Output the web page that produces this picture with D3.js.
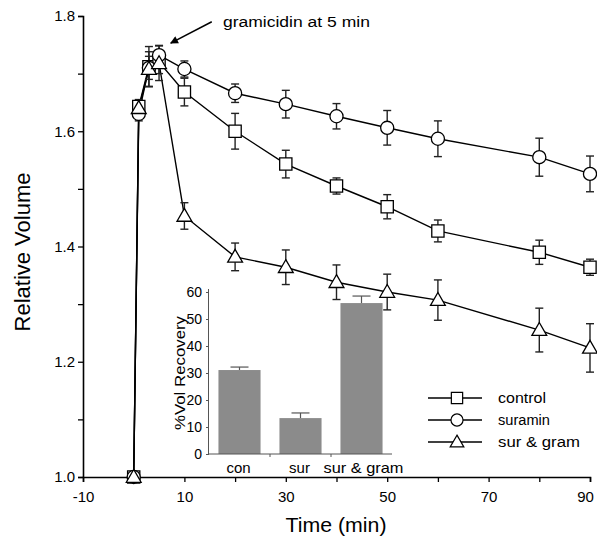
<!DOCTYPE html>
<html><head><meta charset="utf-8">
<script src="https://cdn.jsdelivr.net/npm/d3@7"></script>
<style>
html,body{margin:0;padding:0;background:#fff;}
svg{display:block;font-family:"Liberation Sans",Arial,Helvetica,sans-serif;}
</style></head>
<body>
<svg id="chart" width="597" height="548"></svg>
<script>
// ---- data ----
const times = [0, 1, 3, 5, 10, 20, 30, 40, 50, 60, 80, 90];
const control  = [1.0, 1.643, 1.712, 1.72, 1.668, 1.600, 1.543, 1.505, 1.469, 1.427, 1.390, 1.364];
const suramin  = [1.0, 1.630, 1.710, 1.732, 1.708, 1.666, 1.647, 1.626, 1.606, 1.587, 1.555, 1.526];
const surGram  = [1.0, 1.640, 1.708, 1.718, 1.453, 1.382, 1.364, 1.338, 1.321, 1.307, 1.255, 1.224];
const controlErr = [0, 0.012, 0.035, 0.02, 0.024, 0.031, 0.024, 0.014, 0.021, 0.019, 0.021, 0.014];
const suraminErr = [0, 0.012, 0.02, 0.017, 0.014, 0.016, 0.024, 0.022, 0.030, 0.031, 0.033, 0.031];
const surGramErr = [0, 0.012, 0.03, 0.03, 0.023, 0.024, 0.030, 0.030, 0.031, 0.035, 0.038, 0.042];
const seriesNames = ["control", "suramin", "sur & gram"];
const xTicks = [-10, 0, 10, 20, 30, 40, 50, 60, 70, 80, 90];
const xTickLabels = ["-10", "", "10", "", "30", "", "50", "", "70", "", "90"];
const yTicks = [1.0, 1.1, 1.2, 1.3, 1.4, 1.5, 1.6, 1.7, 1.8];
const yTickLabels = ["1.0", "", "1.2", "", "1.4", "", "1.6", "", "1.8"];

// inset
const insetCats = ["con", "sur", "sur & gram"];
const insetVals = [31.1, 13.3, 55.9];
const insetErr = [1.1, 1.9, 2.6];
const insetTicks = [0, 10, 20, 30, 40, 50, 60];

const annotation = {text: "gramicidin at 5 min", tail: [15.4, 1.79], tip: [7.3, 1.753], textPos: [17.6, 1.781]};

// ---- drawing ----
const svg = d3.select("#chart");
const x = d3.scaleLinear().domain([-10, 90]).range([83, 590]);
const y = d3.scaleLinear().domain([1.0, 1.8]).range([477, 16]);

const defs = svg.append("defs");
defs.append("marker").attr("id", "arrow").attr("viewBox", "0 0 10 10")
  .attr("refX", 9).attr("refY", 5).attr("markerWidth", 10).attr("markerHeight", 8)
  .attr("markerUnits", "userSpaceOnUse").attr("orient", "auto")
  .append("path").attr("d", "M0,0 L10,5 L0,10 z").attr("fill", "#000");

// axes
const xAxis = d3.axisBottom(x).tickValues(xTicks).tickSize(5).tickPadding(9)
  .tickFormat((d, i) => xTickLabels[i]);
const gx = svg.append("g").attr("transform", "translate(0,477)").call(xAxis);
const yAxis = d3.axisLeft(y).tickValues(yTicks).tickSize(5).tickPadding(3)
  .tickFormat((d, i) => yTickLabels[i]);
const gy = svg.append("g").attr("transform", "translate(83,0)").call(yAxis);
[gx, gy].forEach(g => {
  g.attr("font-size", 15).attr("font-family", "Liberation Sans, Arial, sans-serif");
  g.select(".domain").attr("stroke", "#000").attr("stroke-width", 1.6);
  g.selectAll(".tick line").attr("stroke", "#000").attr("stroke-width", 1.3);
  g.selectAll(".tick text").attr("fill", "#000");
});
gx.selectAll(".tick text").filter(d => d === 90).attr("dx", -5);

svg.append("text").attr("x", 336).attr("y", 532).attr("text-anchor", "middle")
  .attr("font-size", 20).attr("textLength", 101).attr("lengthAdjust", "spacingAndGlyphs")
  .text("Time (min)");
svg.append("text").attr("transform", "translate(30,252) rotate(-90)").attr("text-anchor", "middle")
  .attr("font-size", 22).attr("textLength", 159).attr("lengthAdjust", "spacingAndGlyphs")
  .text("Relative Volume");

// inset bar chart
const ix = d3.scaleBand().domain(insetCats).range([209, 392]).paddingInner(0.31).paddingOuter(0.155);
const iy = d3.scaleLinear().domain([0, 60]).range([454, 292]);
const ig = svg.append("g");
ig.selectAll("rect.bar").data(insetVals).join("rect").attr("class", "bar")
  .attr("x", (d, i) => ix(insetCats[i])).attr("width", ix.bandwidth())
  .attr("y", d => iy(d)).attr("height", d => iy(0) - iy(d))
  .attr("fill", "#8b8b8b");
ig.selectAll("g.ierr").data(insetVals).join("g").attr("class", "ierr").each(function(d, i) {
  const cx = ix(insetCats[i]) + ix.bandwidth() / 2;
  const g = d3.select(this);
  g.append("line").attr("x1", cx).attr("x2", cx).attr("y1", iy(d)).attr("y2", iy(d + insetErr[i]))
    .attr("stroke", "#555").attr("stroke-width", 1.2);
  g.append("line").attr("x1", cx - 9).attr("x2", cx + 9).attr("y1", iy(d + insetErr[i])).attr("y2", iy(d + insetErr[i]))
    .attr("stroke", "#555").attr("stroke-width", 1.2);
});
const iyAxis = d3.axisLeft(iy).tickValues(insetTicks).tickSize(3).tickPadding(4);
const giy = ig.append("g").attr("transform", "translate(209,0)").call(iyAxis);
giy.attr("font-size", 14).attr("font-family", "Liberation Sans, Arial, sans-serif");
giy.select(".domain").attr("d", "M-0.5,289V454").attr("stroke", "#555");
giy.selectAll(".tick line").attr("stroke", "#555");
giy.selectAll(".tick text").attr("fill", "#000");
const gix = ig.append("g").attr("transform", "translate(0,454)");
gix.append("line").attr("x1", 209).attr("x2", 392).attr("y1", 0).attr("y2", 0).attr("stroke", "#555").attr("stroke-width", 1);
gix.selectAll("line.sep").data(insetCats.slice(1)).join("line").attr("class", "sep")
  .attr("x1", d => ix(d) - ix.step() * ix.paddingInner() / 2).attr("x2", d => ix(d) - ix.step() * ix.paddingInner() / 2)
  .attr("y1", 0).attr("y2", 3).attr("stroke", "#555");
gix.selectAll("text").data(insetCats).join("text")
  .attr("x", d => ix(d) + ix.bandwidth() / 2 + (d === "sur & gram" ? 2 : -1)).attr("y", 19)
  .attr("text-anchor", "middle").attr("font-size", 15)
  .each(function(d) { if (d === "sur & gram") d3.select(this).attr("textLength", 80).attr("lengthAdjust", "spacingAndGlyphs"); })
  .text(d => d);
svg.append("text").attr("transform", "translate(185,373) rotate(-90)").attr("text-anchor", "middle")
  .attr("font-size", 15).attr("textLength", 114).attr("lengthAdjust", "spacingAndGlyphs")
  .text("%Vol Recovery");

// series
const seriesData = [
  {name: seriesNames[0], vals: control, err: controlErr, sym: d3.symbolSquare},
  {name: seriesNames[1], vals: suramin, err: suraminErr, sym: d3.symbolCircle},
  {name: seriesNames[2], vals: surGram, err: surGramErr, sym: d3.symbolTriangle}
];
const symSize = {[seriesNames[0]]: 150, [seriesNames[1]]: 135, [seriesNames[2]]: 95};
const line = d3.line().x(d => x(d[0])).y(d => y(d[1]));
seriesData.forEach(s => {
  const pts = times.map((t, i) => [t, s.vals[i]]);
  svg.append("path").datum(pts).attr("d", line).attr("fill", "none")
    .attr("stroke", "#000").attr("stroke-width", 1.4);
});
seriesData.forEach(s => {
  const g = svg.append("g");
  times.forEach((t, i) => {
    const e = s.err[i];
    if (!e) return;
    const cx = x(t);
    g.append("line").attr("x1", cx).attr("x2", cx).attr("y1", y(s.vals[i] - e)).attr("y2", y(s.vals[i] + e))
      .attr("stroke", "#222").attr("stroke-width", 1.4);
    [s.vals[i] - e, s.vals[i] + e].forEach(v => g.append("line")
      .attr("x1", cx - 4).attr("x2", cx + 4).attr("y1", y(v)).attr("y2", y(v))
      .attr("stroke", "#222").attr("stroke-width", 1.4));
  });
});
seriesData.forEach(s => {
  const sym = d3.symbol().type(s.sym).size(symSize[s.name]);
  svg.append("g").selectAll("path").data(times.map((t, i) => [t, s.vals[i]])).join("path")
    .attr("d", sym)
    .attr("transform", d => `translate(${x(d[0])},${y(d[1]) + (s.sym === d3.symbolTriangle ? 1 : 0)})`)
    .attr("fill", "#fff").attr("stroke", "#000").attr("stroke-width", 1.3);
});

// annotation
svg.append("line")
  .attr("x1", x(annotation.tail[0])).attr("y1", y(annotation.tail[1]))
  .attr("x2", x(annotation.tip[0])).attr("y2", y(annotation.tip[1]))
  .attr("stroke", "#000").attr("stroke-width", 1.5).attr("marker-end", "url(#arrow)");
svg.append("text").attr("x", x(annotation.textPos[0])).attr("y", y(annotation.textPos[1]))
  .attr("font-size", 14).attr("textLength", 147).attr("lengthAdjust", "spacingAndGlyphs")
  .text(annotation.text);

// legend
const legend = svg.append("g").attr("transform", "translate(428,398)");
const legLen = [48, 52, 82];
seriesData.forEach((s, i) => {
  const g = legend.append("g").attr("transform", `translate(0,${i * 22})`);
  g.append("line").attr("x1", 0).attr("x2", 54).attr("y1", 0).attr("y2", 0).attr("stroke", "#000").attr("stroke-width", 1.4);
  g.append("path").attr("d", d3.symbol().type(s.sym).size(symSize[s.name] * 0.85))
    .attr("transform", `translate(29,${s.sym === d3.symbolTriangle ? 1 : 0})`)
    .attr("fill", "#fff").attr("stroke", "#000").attr("stroke-width", 1.2);
  g.append("text").attr("x", 70).attr("y", 5).attr("font-size", 14)
    .attr("textLength", legLen[i]).attr("lengthAdjust", "spacingAndGlyphs").text(s.name);
});
</script>
</body></html>
